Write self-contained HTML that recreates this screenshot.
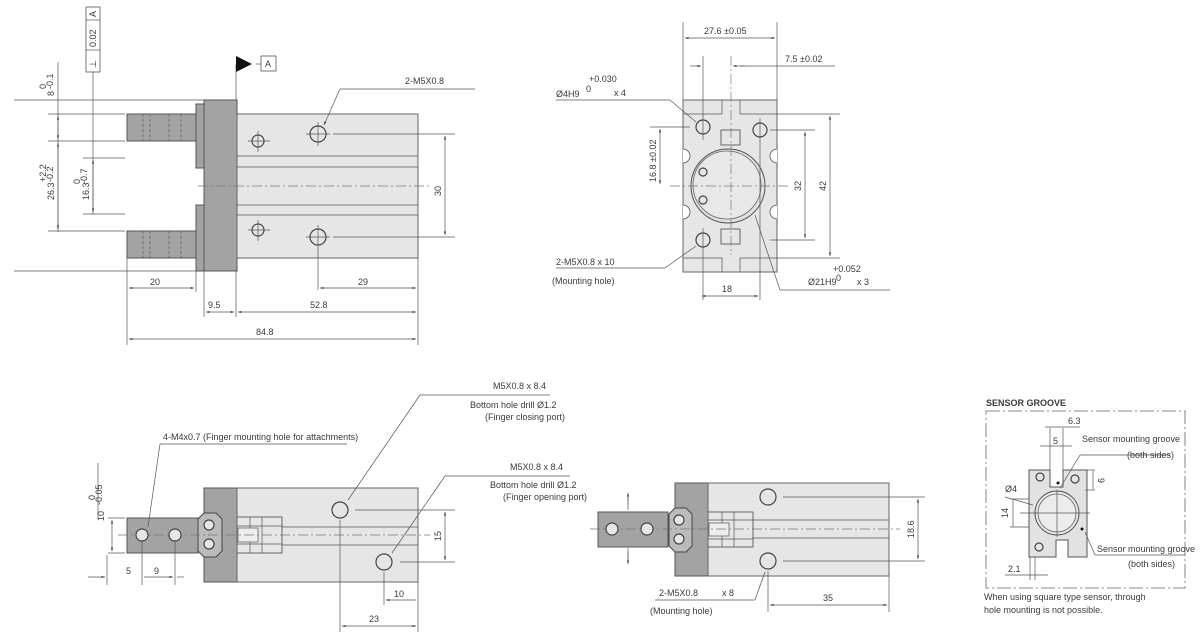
<!DOCTYPE html>
<html><head><meta charset="utf-8"><style>
html,body{margin:0;padding:0;background:#fff;}
svg{display:block;}
text{font-family:"Liberation Sans",sans-serif;font-size:9px;fill:#3a3a3a;}
.l{stroke:#555;stroke-width:0.7;fill:none;}
.dk{fill:#a3a3a3;stroke:#555;stroke-width:1;}
.lt{fill:#e6e6e6;stroke:#666;stroke-width:1;}
.c{stroke:#777;stroke-width:0.7;stroke-dasharray:10,3,2,3;fill:none;}
.h{fill:#e6e6e6;stroke:#444;stroke-width:1.2;}
</style></head><body>
<svg width="1200" height="639" viewBox="0 0 1200 639" xmlns="http://www.w3.org/2000/svg">
<defs>
<marker id="a" viewBox="0 0 10 10" refX="10" refY="5" markerWidth="7" markerHeight="5" orient="auto-start-reverse"><path d="M0,2 L10,5 L0,8 z" fill="#333"/></marker>
</defs>

<!-- ========== TOP-LEFT VIEW ========== -->
<rect class="dk" x="127" y="114" width="70" height="27"/>
<rect class="dk" x="127" y="231" width="70" height="27"/>
<g class="l" stroke-dasharray="3,2"><line x1="143" y1="114" x2="143" y2="141"/><line x1="150" y1="114" x2="150" y2="141"/><line x1="169" y1="114" x2="169" y2="141"/><line x1="181" y1="114" x2="181" y2="141"/>
<line x1="143" y1="231" x2="143" y2="258"/><line x1="150" y1="231" x2="150" y2="258"/><line x1="169" y1="231" x2="169" y2="258"/><line x1="181" y1="231" x2="181" y2="258"/></g>
<rect class="dk" x="196" y="104" width="9" height="64"/>
<rect class="dk" x="196" y="205" width="9" height="66"/>
<rect class="dk" x="204" y="100" width="33" height="171"/>
<rect class="lt" x="237" y="114" width="181" height="144"/>
<g class="l"><line x1="237" y1="156" x2="418" y2="156"/><line x1="237" y1="167" x2="418" y2="167"/><line x1="237" y1="205" x2="418" y2="205"/><line x1="237" y1="215" x2="418" y2="215"/></g>
<line class="c" x1="198" y1="186" x2="430" y2="186"/>
<circle class="h" cx="258" cy="141" r="6"/><circle class="h" cx="318" cy="134" r="8"/>
<circle class="h" cx="258" cy="230" r="6"/><circle class="h" cx="318" cy="237" r="8"/>
<g class="l"><line x1="248" y1="141" x2="270" y2="141"/><line x1="258" y1="131" x2="258" y2="152"/>
<line x1="248" y1="230" x2="270" y2="230"/><line x1="258" y1="220" x2="258" y2="241"/>
<line x1="306" y1="134" x2="330" y2="134"/><line x1="318" y1="122" x2="318" y2="146"/>
<line x1="306" y1="237" x2="330" y2="237"/><line x1="318" y1="225" x2="318" y2="290"/>
<line x1="333" y1="134" x2="455" y2="134"/><line x1="333" y1="237" x2="455" y2="237"/>
<line x1="418" y1="258" x2="418" y2="345"/><line x1="127" y1="258" x2="127" y2="345"/><line x1="196" y1="270" x2="196" y2="292"/><line x1="204" y1="270" x2="204" y2="317"/><line x1="236" y1="270" x2="236" y2="317"/>
<line x1="14" y1="100" x2="204" y2="100"/><line x1="14" y1="271" x2="204" y2="271"/>
<line x1="48" y1="114" x2="125" y2="114"/><line x1="48" y1="141" x2="125" y2="141"/><line x1="48" y1="231" x2="125" y2="231"/>
<line x1="83" y1="158" x2="125" y2="158"/><line x1="83" y1="214" x2="125" y2="214"/>
<line x1="58" y1="62" x2="58" y2="232"/><line x1="93" y1="72" x2="93" y2="214"/>
<line x1="236" y1="64" x2="236" y2="100"/><line x1="256" y1="64" x2="261" y2="64"/>
<line x1="340" y1="89" x2="475" y2="89"/>
</g>
<g class="l" marker-end="url(#a)" marker-start="url(#a)">
<line x1="58" y1="116" x2="58" y2="139"/><line x1="58" y1="143" x2="58" y2="229"/><line x1="93" y1="160" x2="93" y2="212"/>
<line x1="445" y1="136" x2="445" y2="235"/>
<line x1="129" y1="288" x2="194" y2="288"/><line x1="320" y1="288" x2="416" y2="288"/>
<line x1="206" y1="312" x2="234" y2="312"/><line x1="238" y1="312" x2="416" y2="312"/>
<line x1="129" y1="339" x2="416" y2="339"/>
</g>
<line class="l" x1="340" y1="89" x2="324" y2="125" marker-end="url(#a)"/>
<rect x="86" y="7" width="14" height="65" fill="#fff" stroke="#555" stroke-width="0.8"/>
<line class="l" x1="86" y1="20" x2="100" y2="20"/><line class="l" x1="86" y1="50" x2="100" y2="50"/>
<text transform="translate(96,17) rotate(-90)" font-size="8">A</text>
<text transform="translate(96,47) rotate(-90)" font-size="8">0.02</text>
<text transform="translate(96,68) rotate(-90)" font-size="9">⊥</text>
<path d="M236,56 L252,64 L236,72 z" fill="#111"/>
<rect x="261" y="56" width="15" height="15" fill="#fff" stroke="#555" stroke-width="0.8"/>
<text x="265" y="67" font-size="8">A</text>
<text x="405" y="84">2-M5X0.8</text>
<text transform="translate(54,96) rotate(-90)">8</text>
<text transform="translate(46,89) rotate(-90)" font-size="6">0</text>
<text transform="translate(53,89) rotate(-90)" font-size="6">-0.1</text>
<text transform="translate(54,200) rotate(-90)">26.3</text>
<text transform="translate(46,182) rotate(-90)" font-size="6">+2.2</text>
<text transform="translate(53,182) rotate(-90)" font-size="6">-0.2</text>
<text transform="translate(89,200) rotate(-90)">16.3</text>
<text transform="translate(80,184) rotate(-90)" font-size="6">0</text>
<text transform="translate(87,184) rotate(-90)" font-size="6">-0.7</text>
<text transform="translate(441,196) rotate(-90)">30</text>
<text x="150" y="285">20</text><text x="358" y="285">29</text>
<text x="208" y="308">9.5</text><text x="310" y="308">52.8</text><text x="256" y="335">84.8</text>

<!-- ========== TOP-RIGHT VIEW ========== -->
<rect class="lt" x="683" y="100" width="94" height="172"/>
<g class="l">
<path d="M683,114 H722 V100 M777,114 H740 V100 M683,258 H722 V272 M777,258 H740 V272"/>
</g>
<path d="M683,149 a7,7 0 0 1 0,14 M683,205 a7,7 0 0 1 0,14 M777,149 a7,7 0 0 0 0,14 M777,205 a7,7 0 0 0 0,14" stroke="#555" stroke-width="0.8" fill="#fff"/>
<rect class="lt" x="721" y="130" width="19" height="15"/><rect class="lt" x="721" y="229" width="19" height="15"/>
<circle cx="728" cy="186" r="37" fill="#e0e0e0" stroke="#555" stroke-width="1"/>
<circle cx="727" cy="185" r="34" fill="#e8e8e8" stroke="#666" stroke-width="0.8"/>
<circle class="h" cx="703" cy="172" r="4"/><circle class="h" cx="703" cy="200" r="4"/>
<circle class="h" cx="703" cy="127" r="7"/><circle class="h" cx="760" cy="130" r="7"/><circle class="h" cx="703" cy="240" r="7"/>
<line class="c" x1="670" y1="186" x2="790" y2="186"/>
<line class="c" x1="731" y1="56" x2="731" y2="255"/>
<g class="l">
<line x1="703" y1="56" x2="703" y2="140"/><line x1="703" y1="228" x2="703" y2="300"/><line x1="760" y1="118" x2="760" y2="300"/>
<line x1="683" y1="22" x2="683" y2="100"/><line x1="777" y1="22" x2="777" y2="100"/>
<line x1="740" y1="66" x2="835" y2="66"/>
<line x1="650" y1="127" x2="690" y2="127"/>
<line x1="777" y1="114" x2="840" y2="114"/><line x1="777" y1="258" x2="840" y2="258"/>
<line x1="770" y1="130" x2="815" y2="130"/><line x1="770" y1="240" x2="815" y2="240"/>
<line x1="556" y1="100" x2="670" y2="100"/><line x1="670" y1="100" x2="696" y2="122"/>
<line x1="556" y1="268" x2="665" y2="268"/><line x1="665" y1="268" x2="696" y2="246"/>
<line x1="755" y1="215" x2="780" y2="290"/><line x1="780" y1="290" x2="890" y2="290"/>
</g>
<g class="l" marker-end="url(#a)" marker-start="url(#a)">
<line x1="685" y1="38" x2="775" y2="38"/>
<line x1="660" y1="129" x2="660" y2="184"/>
<line x1="805" y1="132" x2="805" y2="238"/><line x1="830" y1="116" x2="830" y2="256"/>
<line x1="702" y1="296" x2="758" y2="296"/>
</g>
<line class="l" x1="690" y1="66" x2="701" y2="66" marker-end="url(#a)"/>
<line class="l" x1="745" y1="66" x2="733" y2="66" marker-end="url(#a)"/>
<text x="704" y="34">27.6 ±0.05</text><text x="785" y="62">7.5 ±0.02</text>
<text x="556" y="97">Ø4H9</text><text x="589" y="82" font-size="6">+0.030</text><text x="586" y="92" font-size="7">0</text><text x="614" y="96">x 4</text>
<text transform="translate(656,182) rotate(-90)">16.8 ±0.02</text>
<text transform="translate(801,191) rotate(-90)">32</text><text transform="translate(826,191) rotate(-90)">42</text>
<text x="722" y="292">18</text>
<text x="556" y="265">2-M5X0.8  x 10</text><text x="552" y="284" font-size="8">(Mounting hole)</text>
<text x="808" y="285">Ø21H9</text><text x="833" y="272" font-size="6">+0.052</text><text x="836" y="281" font-size="7">0</text><text x="857" y="285">x 3</text>

<!-- ========== BOTTOM-LEFT VIEW ========== -->
<rect class="dk" x="127" y="518" width="71" height="35"/>
<rect class="dk" x="204" y="488" width="33" height="94"/>
<rect class="lt" x="237" y="488" width="181" height="94"/>
<rect class="lt" x="237" y="517" width="45" height="36"/>
<g class="l"><line x1="250" y1="517" x2="250" y2="553"/><line x1="262" y1="517" x2="262" y2="553"/><line x1="237" y1="526" x2="282" y2="526"/><line x1="237" y1="544" x2="282" y2="544"/>
<rect x="238" y="528" width="20" height="14" fill="#eee"/>
<line x1="282" y1="527" x2="418" y2="527"/><line x1="282" y1="545" x2="418" y2="545"/></g>
<path d="M198,519 L204,513 L216,513 L222,519 V551 L216,557 L204,557 L198,551 z" fill="#bbb" stroke="#444" stroke-width="1"/>
<circle class="h" cx="209" cy="525" r="5"/><circle class="h" cx="209" cy="544" r="5"/>
<line class="c" x1="118" y1="535" x2="430" y2="535"/>
<circle class="h" cx="142" cy="535" r="6"/><circle class="h" cx="175" cy="535" r="6"/>
<circle class="h" cx="340" cy="510" r="8"/><circle class="h" cx="384" cy="562" r="8"/>
<g class="l">
<line x1="108" y1="518" x2="125" y2="518"/><line x1="108" y1="553" x2="125" y2="553"/>
<line x1="107" y1="555" x2="107" y2="585"/><line x1="142" y1="540" x2="142" y2="585"/><line x1="175" y1="540" x2="175" y2="585"/>
<line x1="355" y1="510" x2="455" y2="510"/><line x1="400" y1="562" x2="455" y2="562"/>
<line x1="340" y1="520" x2="340" y2="632"/><line x1="384" y1="572" x2="384" y2="605"/><line x1="418" y1="582" x2="418" y2="632"/>
<line x1="98" y1="463" x2="98" y2="518"/>
<line x1="160" y1="444" x2="347" y2="444"/><line x1="160" y1="444" x2="148" y2="527"/>
<line x1="420" y1="395" x2="550" y2="395"/><line x1="420" y1="395" x2="348" y2="500"/>
<line x1="445" y1="476" x2="570" y2="476"/><line x1="445" y1="476" x2="392" y2="553"/>
</g>
<g class="l" marker-end="url(#a)" marker-start="url(#a)">
<line x1="112" y1="520" x2="112" y2="551"/><line x1="445" y1="512" x2="445" y2="560"/>
<line x1="342" y1="626" x2="416" y2="626"/>
</g>
<line class="l" x1="88" y1="577" x2="105" y2="577" marker-end="url(#a)"/>
<line class="l" x1="144" y1="577" x2="173" y2="577" marker-end="url(#a)"/>
<line class="l" x1="184" y1="577" x2="177" y2="577"/>
<line class="l" x1="386" y1="600" x2="416" y2="600" marker-start="url(#a)"/>
<text x="126" y="574">5</text><text x="154" y="574">9</text>
<text transform="translate(104,521) rotate(-90)">10</text>
<text transform="translate(95,500) rotate(-90)" font-size="6">0</text><text transform="translate(102,505) rotate(-90)" font-size="6">-0.05</text>
<text transform="translate(441,541) rotate(-90)">15</text>
<text x="394" y="597">10</text><text x="369" y="622">23</text>
<text x="163" y="440">4-M4x0.7  (Finger mounting hole for attachments)</text>
<text x="493" y="389">M5X0.8  x  8.4</text>
<text x="470" y="408">Bottom hole drill Ø1.2</text>
<text x="485" y="420" font-size="8">(Finger closing port)</text>
<text x="510" y="470">M5X0.8  x 8.4</text>
<text x="490" y="488">Bottom hole drill Ø1.2</text>
<text x="503" y="500" font-size="8">(Finger opening port)</text>

<!-- ========== BOTTOM-MIDDLE VIEW ========== -->
<rect class="dk" x="598" y="512" width="70" height="35"/>
<rect class="dk" x="675" y="483" width="33" height="93"/>
<rect class="lt" x="708" y="483" width="181" height="93"/>
<rect class="lt" x="708" y="512" width="45" height="35"/>
<g class="l"><line x1="722" y1="512" x2="722" y2="547"/><line x1="734" y1="512" x2="734" y2="547"/><line x1="708" y1="520" x2="753" y2="520"/><line x1="708" y1="539" x2="753" y2="539"/>
<rect x="709" y="523" width="20" height="13" fill="#eee"/>
<line x1="753" y1="520" x2="889" y2="520"/><line x1="753" y1="538" x2="889" y2="538"/></g>
<path d="M669,514 L675,508 L686,508 L692,514 V546 L686,552 L675,552 L669,546 z" fill="#bbb" stroke="#444" stroke-width="1"/>
<circle class="h" cx="679" cy="520" r="5"/><circle class="h" cx="679" cy="539" r="5"/>
<line class="c" x1="590" y1="529" x2="900" y2="529"/>
<circle class="h" cx="612" cy="529" r="6"/><circle class="h" cx="647" cy="529" r="6"/>
<circle class="h" cx="768" cy="497" r="8"/><circle class="h" cx="768" cy="561" r="8"/>
<g class="l">
<line x1="628" y1="497" x2="628" y2="510"/><line x1="628" y1="548" x2="628" y2="560"/>
<line x1="783" y1="497" x2="925" y2="497"/><line x1="783" y1="561" x2="925" y2="561"/>
<line x1="768" y1="571" x2="768" y2="612"/><line x1="889" y1="576" x2="889" y2="612"/>
<line x1="655" y1="600" x2="755" y2="600"/><line x1="755" y1="600" x2="765" y2="572"/>
</g>
<line class="l" x1="628" y1="505" x2="628" y2="493" marker-end="url(#a)"/>
<line class="l" x1="628" y1="552" x2="628" y2="564" marker-end="url(#a)"/>
<g class="l" marker-end="url(#a)" marker-start="url(#a)">
<line x1="918" y1="499" x2="918" y2="559"/><line x1="770" y1="605" x2="887" y2="605"/>
</g>
<text transform="translate(914,538) rotate(-90)">18.6</text>
<text x="823" y="601">35</text>
<text x="659" y="596">2-M5X0.8</text><text x="722" y="596">x  8</text>
<text x="650" y="614" font-size="8">(Mounting hole)</text>

<!-- ========== SENSOR GROOVE ========== -->
<text x="986" y="406" font-size="8" font-weight="bold" fill="#444">SENSOR GROOVE</text>
<rect x="986" y="411" width="199" height="177" fill="none" stroke="#666" stroke-width="0.8" stroke-dasharray="14,3,2,3"/>
<path d="M1029,470 H1050 V487 H1063 V470 H1087 V557 H1068 V540 H1056 V557 H1029 z" fill="#e2e2e2" stroke="#555" stroke-width="1"/>
<circle cx="1057" cy="513" r="22" fill="#e6e6e6" stroke="#555" stroke-width="1"/>
<circle cx="1057" cy="513" r="19" fill="#ececec" stroke="#666" stroke-width="0.8"/>
<circle class="h" cx="1040" cy="477" r="4"/><circle class="h" cx="1075" cy="479" r="4"/><circle class="h" cx="1039" cy="547" r="4"/>
<circle cx="1058" cy="483" r="1.5" fill="#111"/><circle cx="1082" cy="529" r="1.5" fill="#111"/>
<g class="l">
<line x1="1020" y1="513" x2="1090" y2="513"/><line x1="1057" y1="490" x2="1057" y2="537"/>
<line x1="1050" y1="428" x2="1050" y2="470"/><line x1="1063" y1="428" x2="1063" y2="470"/>
<line x1="1045" y1="427" x2="1080" y2="427"/><line x1="1040" y1="446" x2="1072" y2="446"/>
<line x1="1060" y1="488" x2="1080" y2="455"/><line x1="1080" y1="455" x2="1170" y2="455"/>
<line x1="1087" y1="470" x2="1095" y2="470"/><line x1="1085" y1="490" x2="1095" y2="490"/><line x1="1093" y1="470" x2="1093" y2="490"/>
<line x1="1010" y1="499" x2="1029" y2="499"/><line x1="1010" y1="527" x2="1029" y2="527"/><line x1="1013" y1="499" x2="1013" y2="527"/>
<line x1="1005" y1="497" x2="1033" y2="505"/>
<line x1="1030" y1="557" x2="1030" y2="580"/><line x1="1035" y1="557" x2="1035" y2="580"/>
<line x1="1005" y1="575" x2="1048" y2="575"/>
<line x1="1085" y1="532" x2="1095" y2="555"/><line x1="1095" y1="555" x2="1185" y2="555"/>
</g>
<text x="1068" y="424" font-size="8">6.3</text><text x="1053" y="444" font-size="8">5</text>
<text x="1082" y="442" font-size="8">Sensor mounting groove</text><text x="1127" y="458" font-size="8">(both sides)</text>
<text transform="translate(1098,478) rotate(90)" font-size="8">9</text>
<text x="1005" y="492" font-size="8">Ø4</text>
<text transform="translate(1008,518) rotate(-90)" font-size="8">14</text>
<text x="1008" y="572" font-size="8">2.1</text>
<text x="1097" y="552" font-size="8">Sensor  mounting groove</text><text x="1128" y="567" font-size="8">(both sides)</text>
<text x="984" y="600" font-size="8">When using square type sensor, through</text>
<text x="984" y="613" font-size="8">hole mounting is not possible.</text>
</svg>
</body></html>
